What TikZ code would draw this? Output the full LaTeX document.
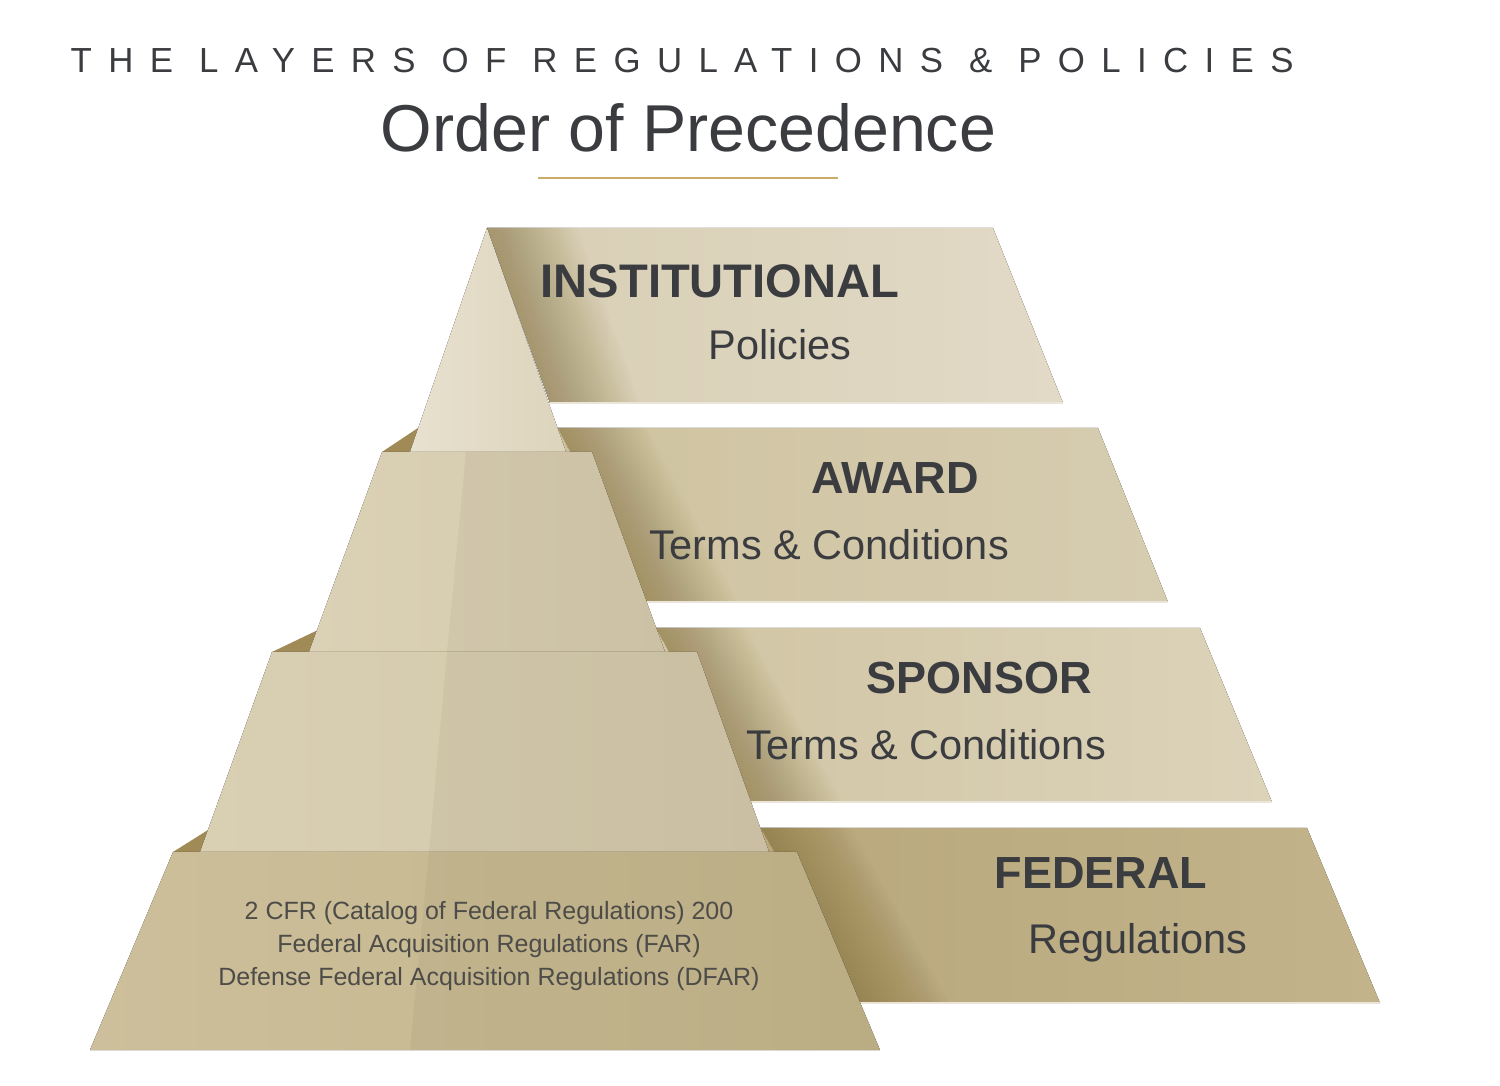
\documentclass[tikz,border=0pt]{standalone}
\usepackage{fontspec}
\setmainfont{Liberation Sans}
\newfontfamily\spacedfont[LetterSpace=47]{Liberation Sans}
\usepackage{xcolor}
\usetikzlibrary{positioning, calc}
\definecolor{inkgray}{HTML}{3A3C3F}
\definecolor{notegray}{HTML}{4D4C48}
\definecolor{goldline}{HTML}{C9AD66}
\definecolor{shadowgold}{HTML}{7E6933}
\definecolor{ledgegold}{HTML}{A08B57}
\definecolor{rimlight}{HTML}{EAE5D8}
% ribbon colours
\definecolor{instL}{HTML}{D8CEB4}
\definecolor{instR}{HTML}{E2DAC7}
\definecolor{awardL}{HTML}{CFC3A0}
\definecolor{awardR}{HTML}{D6CCB0}
\definecolor{sponsorL}{HTML}{D0C4A2}
\definecolor{sponsorR}{HTML}{DCD3BA}
\definecolor{fedL}{HTML}{B9A87C}
\definecolor{fedR}{HTML}{C2B38B}
% tier colours
\definecolor{tierAL}{HTML}{E8E1CF}
\definecolor{tierAR}{HTML}{DDD4BC}
\definecolor{tierBL}{HTML}{DBD1B6}
\definecolor{tierBR}{HTML}{D4C9AB}
\definecolor{tierCL}{HTML}{D9CFB3}
\definecolor{tierCR}{HTML}{D2C7A8}
\definecolor{tierDL}{HTML}{CDBF9B}
\definecolor{tierDR}{HTML}{C2B488}

\begin{document}
\begin{tikzpicture}[
  x=0.01cm, y=-0.01cm,
  ledge/.style={fill=ledgegold},
  ridge/.style={fill=black, opacity=0.035},
  rim/.style={draw=rimlight, line width=0.6pt},
  head/.style={
    anchor=base,
    inner sep=0pt,
    text=inkgray,
    font=\fontsize{12.8}{15}\selectfont\bfseries
  },
  sub/.style={
    anchor=base,
    inner sep=0pt,
    text=inkgray,
    font=\fontsize{11.8}{14}\selectfont
  },
  note/.style={
    anchor=north,
    inner sep=0pt,
    align=center,
    text=notegray,
    font=\fontsize{7.1}{9.4}\selectfont
  }
]

\useasboundingbox (0,0) rectangle (1500,1086);
\fill[white] (0,0) rectangle (1500,1086);

% Title
\node[anchor=base west, inner sep=0pt, text=inkgray,
      font=\spacedfont\fontsize{9.9}{12}\selectfont] (title) at (70,73)
  {THE LAYERS OF REGULATIONS \& POLICIES};
\node[anchor=base west, inner sep=0pt, text=inkgray,
      font=\fontsize{18.85}{23}\selectfont] (subtitle) at (380,152)
  {Order of Precedence};
\coordinate (ulL) at (538,178);
\coordinate (ulR) at (838,178);
\draw[goldline, line width=0.6pt] (ulL) -- (ulR);

% Ribbons (behind the pyramid)
\fill[left color=instL, right color=instR]
  (487,228) -- (993,228) -- (1063,403) -- (550,403) -- cycle;
\fill[left color=awardL, right color=awardR]
  (556,428) -- (1098,428) -- (1168,602) -- (620,602) -- cycle;
\fill[left color=sponsorL, right color=sponsorR]
  (650,628) -- (1200,628) -- (1272,802) -- (712,802) -- cycle;
\fill[left color=fedL, right color=fedR]
  (755,828) -- (1307,828) -- (1380,1003) -- (818,1003) -- cycle;

% Fold shadows
\coordinate (foldAt) at (487,228); \coordinate (foldAb) at (550,403);
\coordinate (foldBt) at (558,428); \coordinate (foldBb) at (647,602);
\coordinate (foldCt) at (656,628); \coordinate (foldCb) at (752,802);
\coordinate (foldDt) at (761,828); \coordinate (foldDb) at (860,1003);
\foreach \f in {A,B,C,D}{
  \foreach \w in {3,6,...,90}{
    \fill[shadowgold, opacity=0.02]
      (fold\f t) -- ($(fold\f t)+(\w,0)$) -- ($(fold\f b)+(\w,0)$) -- (fold\f b) -- cycle;
  }
}

% Ribbon bottom rims
\draw[rim] (550,403) -- (1063,403);
\draw[rim] (620,602) -- (1168,602);
\draw[rim] (712,802) -- (1272,802);
\draw[rim] (818,1003) -- (1380,1003);

% Ledges
\fill[ledge] (418,428) -- (382,452) -- (422,452) -- cycle;
\fill[ledge] (318,630) -- (272,652) -- (322,652) -- cycle;
\fill[ledge] (208,830) -- (173,852) -- (212,852) -- cycle;

% Pyramid tiers
\fill[left color=tierAL, right color=tierAR]
  (487,228) -- (566,452) -- (410,452) -- cycle;
\fill[left color=tierBL, right color=tierBR]
  (382,452) -- (592,452) -- (665,652) -- (309,652) -- cycle;
\fill[left color=tierCL, right color=tierCR]
  (272,652) -- (697,652) -- (769,852) -- (200,852) -- cycle;
\fill[left color=tierDL, right color=tierDR]
  (173,852) -- (797,852) -- (880,1050) -- (90,1050) -- cycle;

% Ridge
\fill[ridge] (466,452) -- (592,452) -- (665,652) -- (447,652) -- cycle;
\fill[ridge] (447,652) -- (697,652) -- (769,852) -- (429,852) -- cycle;
\fill[ridge] (429,852) -- (797,852) -- (880,1050) -- (410,1050) -- cycle;

% Labels
\node[head, font=\fontsize{13.4}{16}\selectfont\bfseries] (insthead) at (720,298) {INSTITUTIONAL};
\node[sub]  (instsub)     at (780,360)  {Policies};
\node[head] (awardhead)   at (895,494)  {AWARD};
\node[sub]  (awardsub)    at (829,560)  {Terms \& Conditions};
\node[head] (sponsorhead) at (979,694)  {SPONSOR};
\node[sub]  (sponsorsub)  at (926,760)  {Terms \& Conditions};
\node[head] (fedhead)     at (1101,889) {FEDERAL};
\node[sub]  (fedsub)      at (1138,953) {Regulations};

\node[note] (fedlist) at (489,901)
  {2 CFR (Catalog of Federal Regulations) 200\\
   Federal Acquisition Regulations (FAR)\\
   Defense Federal Acquisition Regulations (DFAR)};

\end{tikzpicture}
\end{document}
